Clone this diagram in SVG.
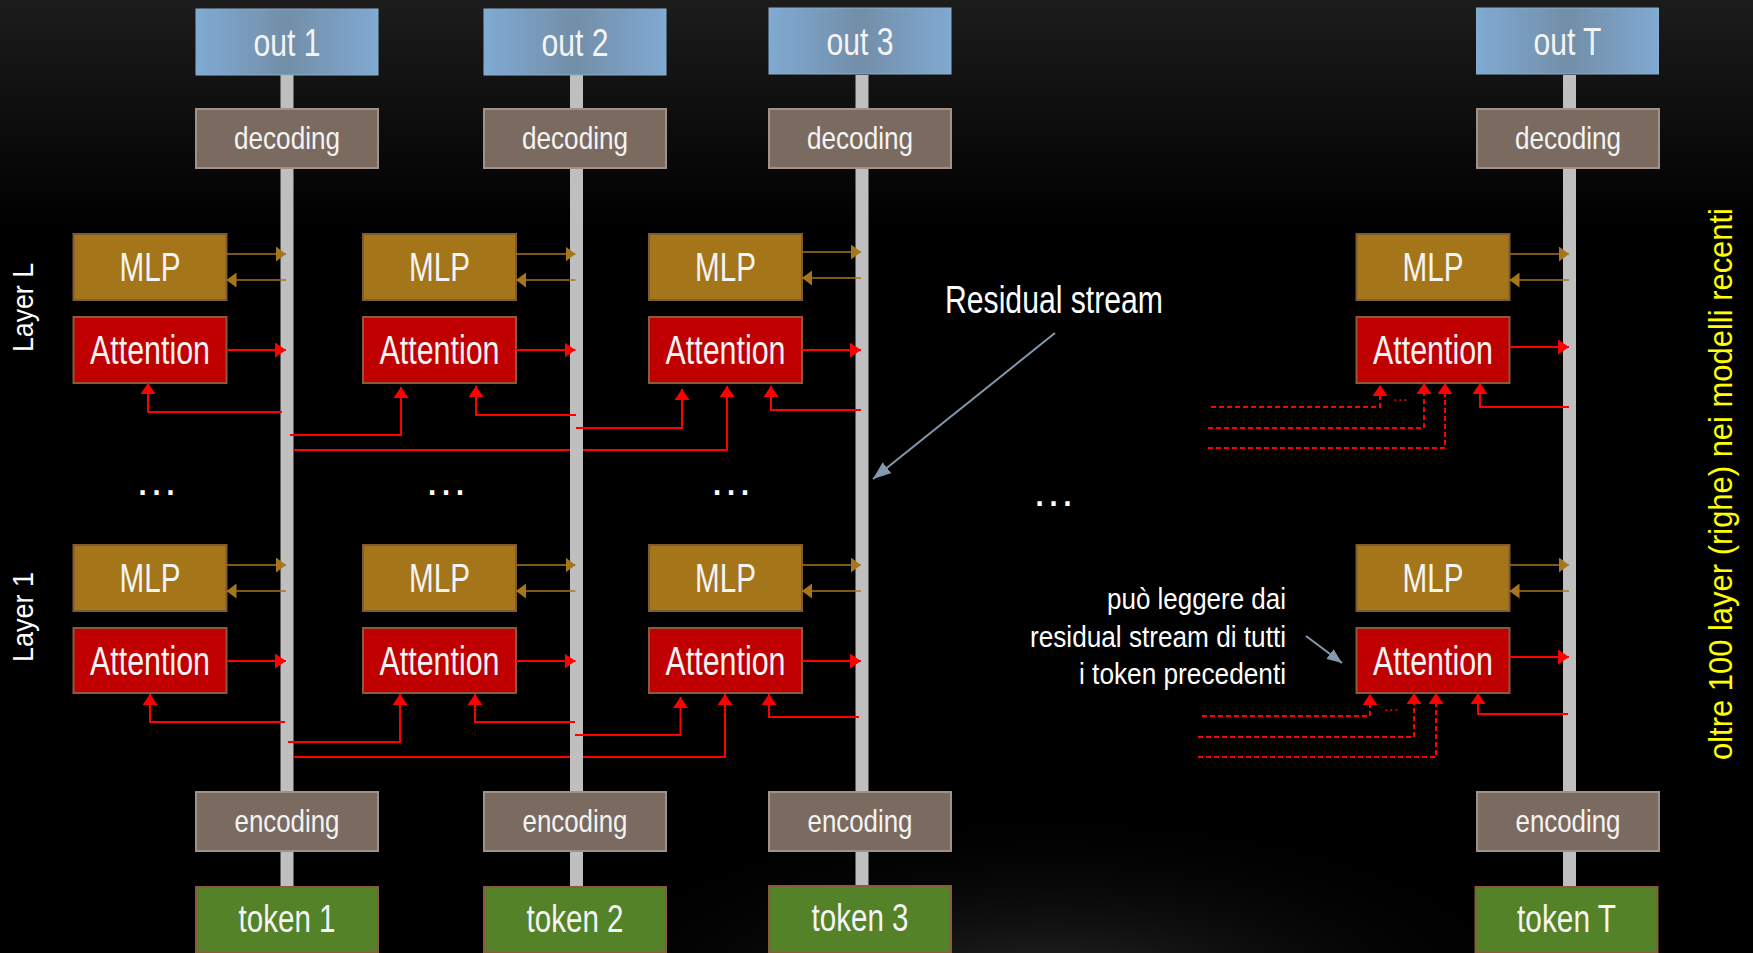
<svg xmlns="http://www.w3.org/2000/svg" width="1753" height="953" viewBox="0 0 1753 953">
<defs>
<linearGradient id="bg" x1="0" y1="0" x2="0" y2="1"><stop offset="0" stop-color="#1c1c1c"/><stop offset="0.24" stop-color="#000"/><stop offset="1" stop-color="#000"/></linearGradient>
<radialGradient id="glow" cx="0.5" cy="0.5" r="0.5"><stop offset="0" stop-color="#3a3a3a" stop-opacity="0.7"/><stop offset="1" stop-color="#000" stop-opacity="0"/></radialGradient>
<linearGradient id="gOut" x1="0" y1="0" x2="1" y2="0"><stop offset="0" stop-color="#80AAD3"/><stop offset="0.5" stop-color="#728EA8"/><stop offset="1" stop-color="#80A9D1"/></linearGradient>
<marker id="mr" markerWidth="11" markerHeight="15" refX="11" refY="7.5" orient="auto" markerUnits="userSpaceOnUse"><path d="M0,0 L11,7.5 L0,15 z" fill="#FF0000"/></marker>
<marker id="mg" markerWidth="10" markerHeight="15" refX="10" refY="7.5" orient="auto" markerUnits="userSpaceOnUse"><path d="M0,0 L10,7.5 L0,15 z" fill="#A5761C"/></marker>
<marker id="mn" markerWidth="18" markerHeight="14" refX="18" refY="7" orient="auto" markerUnits="userSpaceOnUse"><path d="M0,0 L18,7 L0,14 z" fill="#8499AD"/></marker>
<marker id="mn2" markerWidth="15" markerHeight="12" refX="15" refY="6" orient="auto" markerUnits="userSpaceOnUse"><path d="M0,0 L15,6 L0,12 z" fill="#8499AD"/></marker>
</defs>
<style>
.bt{font-family:'Liberation Sans Narrow','Liberation Sans',Arial,sans-serif;fill:#F4F4F4;text-anchor:middle}
.f35{font-size:38px}.f30{font-size:32px}.f37{font-size:40px}
.out rect{fill:url(#gOut);stroke:#8CAED0;stroke-width:1}
.dec rect{fill:#7A6A60;stroke:#A09289;stroke-width:2}
.mlp rect{fill:#A5751A;stroke:#7E5B34;stroke-width:2}
.att rect{fill:#C00000;stroke:#8A5A3A;stroke-width:2}
.tok rect{fill:#548228;stroke:#8A5A3A;stroke-width:2}
.stream{fill:#BFBFBF}
.red{stroke:#FF0000;stroke-width:2;fill:none}
.dash{stroke-dasharray:5 3}
.gold{stroke:#A5761C;stroke-width:1.6;fill:none}
.note{stroke:#8499AD;stroke-width:2;fill:none}
.lbl{font-family:'Liberation Sans',Arial,sans-serif;fill:#FFFFFF}
.dots{font-family:'Liberation Sans',Arial,sans-serif;fill:#FFFFFF;font-size:44px;text-anchor:middle}
</style>
<rect x="0" y="0" width="1753" height="953" fill="url(#bg)"/>
<ellipse cx="1050" cy="990" rx="520" ry="190" fill="url(#glow)"/>

<g id="streams">
<rect class="stream" x="280.5" y="75" width="13" height="812"/>
<rect class="stream" x="570" y="75" width="13" height="812"/>
<rect class="stream" x="855.5" y="75" width="13" height="812"/>
<rect class="stream" x="1563" y="75" width="13" height="812"/>
</g>

<!-- column 1 -->
<g id="out1" class="out"><rect x="196" y="9" width="182" height="66"/><text class="bt f35" x="287" y="56" textLength="67" lengthAdjust="spacingAndGlyphs">out 1</text></g>
<g id="dec1" class="dec"><rect x="196" y="109" width="182" height="59"/><text class="bt f30" x="287" y="149" textLength="106" lengthAdjust="spacingAndGlyphs">decoding</text></g>
<g id="mlpL1" class="mlp"><rect x="73.5" y="234" width="153" height="66"/><text class="bt f37" x="150" y="281" textLength="61" lengthAdjust="spacingAndGlyphs">MLP</text></g>
<g id="attL1" class="att"><rect x="73.5" y="317" width="153" height="66"/><text class="bt f37" x="150" y="364" textLength="120" lengthAdjust="spacingAndGlyphs">Attention</text></g>
<g id="mlp11" class="mlp"><rect x="73.5" y="545" width="153" height="66"/><text class="bt f37" x="150" y="592" textLength="61" lengthAdjust="spacingAndGlyphs">MLP</text></g>
<g id="att11" class="att"><rect x="73.5" y="628" width="153" height="65"/><text class="bt f37" x="150" y="675" textLength="120" lengthAdjust="spacingAndGlyphs">Attention</text></g>
<g id="enc1" class="dec"><rect x="196" y="792" width="182" height="59"/><text class="bt f30" x="287" y="832" textLength="105" lengthAdjust="spacingAndGlyphs">encoding</text></g>
<g id="tok1" class="tok"><rect x="196" y="887" width="182" height="66"/><text class="bt f35" x="287" y="932" textLength="97" lengthAdjust="spacingAndGlyphs">token 1</text></g>

<!-- column 2 -->
<g id="out2" class="out"><rect x="484" y="9" width="182" height="66"/><text class="bt f35" x="575" y="56" textLength="67" lengthAdjust="spacingAndGlyphs">out 2</text></g>
<g id="dec2" class="dec"><rect x="484" y="109" width="182" height="59"/><text class="bt f30" x="575" y="149" textLength="106" lengthAdjust="spacingAndGlyphs">decoding</text></g>
<g id="mlpL2" class="mlp"><rect x="363" y="234" width="153" height="66"/><text class="bt f37" x="439.5" y="281" textLength="61" lengthAdjust="spacingAndGlyphs">MLP</text></g>
<g id="attL2" class="att"><rect x="363" y="317" width="153" height="66"/><text class="bt f37" x="439.5" y="364" textLength="120" lengthAdjust="spacingAndGlyphs">Attention</text></g>
<g id="mlp12" class="mlp"><rect x="363" y="545" width="153" height="66"/><text class="bt f37" x="439.5" y="592" textLength="61" lengthAdjust="spacingAndGlyphs">MLP</text></g>
<g id="att12" class="att"><rect x="363" y="628" width="153" height="65"/><text class="bt f37" x="439.5" y="675" textLength="120" lengthAdjust="spacingAndGlyphs">Attention</text></g>
<g id="enc2" class="dec"><rect x="484" y="792" width="182" height="59"/><text class="bt f30" x="575" y="832" textLength="105" lengthAdjust="spacingAndGlyphs">encoding</text></g>
<g id="tok2" class="tok"><rect x="484" y="887" width="182" height="66"/><text class="bt f35" x="575" y="932" textLength="97" lengthAdjust="spacingAndGlyphs">token 2</text></g>

<!-- column 3 -->
<g id="out3" class="out"><rect x="769" y="8" width="182" height="66"/><text class="bt f35" x="860" y="55" textLength="67" lengthAdjust="spacingAndGlyphs">out 3</text></g>
<g id="dec3" class="dec"><rect x="769" y="109" width="182" height="59"/><text class="bt f30" x="860" y="149" textLength="106" lengthAdjust="spacingAndGlyphs">decoding</text></g>
<g id="mlpL3" class="mlp"><rect x="649" y="234" width="153" height="66"/><text class="bt f37" x="725.5" y="281" textLength="61" lengthAdjust="spacingAndGlyphs">MLP</text></g>
<g id="attL3" class="att"><rect x="649" y="317" width="153" height="66"/><text class="bt f37" x="725.5" y="364" textLength="120" lengthAdjust="spacingAndGlyphs">Attention</text></g>
<g id="mlp13" class="mlp"><rect x="649" y="545" width="153" height="66"/><text class="bt f37" x="725.5" y="592" textLength="61" lengthAdjust="spacingAndGlyphs">MLP</text></g>
<g id="att13" class="att"><rect x="649" y="628" width="153" height="65"/><text class="bt f37" x="725.5" y="675" textLength="120" lengthAdjust="spacingAndGlyphs">Attention</text></g>
<g id="enc3" class="dec"><rect x="769" y="792" width="182" height="59"/><text class="bt f30" x="860" y="832" textLength="105" lengthAdjust="spacingAndGlyphs">encoding</text></g>
<g id="tok3" class="tok"><rect x="769" y="886" width="182" height="67"/><text class="bt f35" x="860" y="931" textLength="97" lengthAdjust="spacingAndGlyphs">token 3</text></g>

<!-- column T -->
<g id="outT" class="out"><rect x="1476.5" y="8" width="182" height="66"/><text class="bt f35" x="1567.5" y="55" textLength="68" lengthAdjust="spacingAndGlyphs">out T</text></g>
<g id="decT" class="dec"><rect x="1477" y="109" width="182" height="59"/><text class="bt f30" x="1568" y="149" textLength="106" lengthAdjust="spacingAndGlyphs">decoding</text></g>
<g id="mlpLT" class="mlp"><rect x="1356.5" y="234" width="153" height="66"/><text class="bt f37" x="1433" y="281" textLength="61" lengthAdjust="spacingAndGlyphs">MLP</text></g>
<g id="attLT" class="att"><rect x="1356.5" y="317" width="153" height="66"/><text class="bt f37" x="1433" y="364" textLength="120" lengthAdjust="spacingAndGlyphs">Attention</text></g>
<g id="mlp1T" class="mlp"><rect x="1356.5" y="545" width="153" height="66"/><text class="bt f37" x="1433" y="592" textLength="61" lengthAdjust="spacingAndGlyphs">MLP</text></g>
<g id="att1T" class="att"><rect x="1356.5" y="628" width="153" height="65"/><text class="bt f37" x="1433" y="675" textLength="120" lengthAdjust="spacingAndGlyphs">Attention</text></g>
<g id="encT" class="dec"><rect x="1477" y="792" width="182" height="59"/><text class="bt f30" x="1568" y="832" textLength="105" lengthAdjust="spacingAndGlyphs">encoding</text></g>
<g id="tokT" class="tok"><rect x="1475.5" y="887" width="182" height="66"/><text class="bt f35" x="1566.5" y="932" textLength="99" lengthAdjust="spacingAndGlyphs">token T</text></g>

<g id="connectors">
<path class="gold" d="M226.5,254 H286" marker-end="url(#mg)"/>
<path class="gold" d="M286,280 H226.5" marker-end="url(#mg)"/>
<path class="gold" d="M226.5,565 H286" marker-end="url(#mg)"/>
<path class="gold" d="M286,591 H226.5" marker-end="url(#mg)"/>
<path class="gold" d="M516,254 H575.5" marker-end="url(#mg)"/>
<path class="gold" d="M575.5,280 H516" marker-end="url(#mg)"/>
<path class="gold" d="M516,565 H575.5" marker-end="url(#mg)"/>
<path class="gold" d="M575.5,591 H516" marker-end="url(#mg)"/>
<path class="gold" d="M802,252 H861" marker-end="url(#mg)"/>
<path class="gold" d="M861,278 H802" marker-end="url(#mg)"/>
<path class="gold" d="M802,565 H861" marker-end="url(#mg)"/>
<path class="gold" d="M861,591 H802" marker-end="url(#mg)"/>
<path class="gold" d="M1509.5,254 H1569" marker-end="url(#mg)"/>
<path class="gold" d="M1569,280 H1509.5" marker-end="url(#mg)"/>
<path class="gold" d="M1509.5,565 H1569" marker-end="url(#mg)"/>
<path class="gold" d="M1569,591 H1509.5" marker-end="url(#mg)"/>
<path class="red" d="M226.5,350 H286" marker-end="url(#mr)"/>
<path class="red" d="M226.5,661 H286" marker-end="url(#mr)"/>
<path class="red" d="M516,350 H575.5" marker-end="url(#mr)"/>
<path class="red" d="M516,661 H575.5" marker-end="url(#mr)"/>
<path class="red" d="M802,350 H861" marker-end="url(#mr)"/>
<path class="red" d="M802,661 H861" marker-end="url(#mr)"/>
<path class="red" d="M1509.5,347 H1569" marker-end="url(#mr)"/>
<path class="red" d="M1509.5,657 H1569" marker-end="url(#mr)"/>
<path class="red" d="M282,412 H148 V383" marker-end="url(#mr)"/>
<path class="red" d="M290,435 H401 V387" marker-end="url(#mr)"/>
<path class="red" d="M576,415 H476 V386" marker-end="url(#mr)"/>
<path class="red" d="M576,428 H682 V389" marker-end="url(#mr)"/>
<path class="red" d="M293.5,450 H570"/>
<path class="red" d="M583,450 H727 V386" marker-end="url(#mr)"/>
<path class="red" d="M861,410 H771 V386" marker-end="url(#mr)"/>
<path class="red" d="M1569,407 H1480 V383" marker-end="url(#mr)"/>
<path class="red dash" d="M1211,407 H1380 V385" marker-end="url(#mr)"/>
<path class="red dash" d="M1208,428 H1424 V383" marker-end="url(#mr)"/>
<path class="red dash" d="M1208,448 H1445 V383" marker-end="url(#mr)"/>
<path class="red" d="M285,722 H150 V694" marker-end="url(#mr)"/>
<path class="red" d="M288,742 H400 V694" marker-end="url(#mr)"/>
<path class="red" d="M575,722 H475 V694" marker-end="url(#mr)"/>
<path class="red" d="M575,735 H680.5 V697" marker-end="url(#mr)"/>
<path class="red" d="M293.5,757 H570"/>
<path class="red" d="M583,757 H725 V694" marker-end="url(#mr)"/>
<path class="red" d="M859,717 H769 V694" marker-end="url(#mr)"/>
<path class="red" d="M1568,714 H1478 V693" marker-end="url(#mr)"/>
<path class="red dash" d="M1202,716 H1370 V694" marker-end="url(#mr)"/>
<path class="red dash" d="M1198,737 H1414 V693" marker-end="url(#mr)"/>
<path class="red dash" d="M1198,757 H1436 V693" marker-end="url(#mr)"/>
<path class="note" d="M1055,333 L873,479" marker-end="url(#mn)"/>
<path class="note" d="M1306,636 L1342,663" marker-end="url(#mn2)"/>
</g>

<g id="labels">
<text class="lbl" font-size="29" text-anchor="middle" transform="translate(33,307.5) rotate(-90)" textLength="89" lengthAdjust="spacingAndGlyphs">Layer L</text>
<text class="lbl" font-size="29" text-anchor="middle" transform="translate(33,617) rotate(-90)" textLength="90" lengthAdjust="spacingAndGlyphs">Layer 1</text>
<text class="lbl" font-size="33" text-anchor="middle" style="fill:#FFFF00" transform="translate(1732,484) rotate(-90)" textLength="552" lengthAdjust="spacingAndGlyphs">oltre 100 layer (righe) nei modelli recenti</text>
<text class="bt" style="text-anchor:start;fill:#FFFFFF" font-size="38" x="945" y="313" textLength="218" lengthAdjust="spacingAndGlyphs">Residual stream</text>
<text class="bt" style="text-anchor:end;fill:#FFFFFF" font-size="29" x="1286" y="609" textLength="179" lengthAdjust="spacingAndGlyphs">può leggere dai</text>
<text class="bt" style="text-anchor:end;fill:#FFFFFF" font-size="29" x="1286" y="647" textLength="256" lengthAdjust="spacingAndGlyphs">residual stream di tutti</text>
<text class="bt" style="text-anchor:end;fill:#FFFFFF" font-size="29" x="1286" y="684" textLength="207" lengthAdjust="spacingAndGlyphs">i token precedenti</text>
<text class="dots" x="156.5" y="495">…</text>
<text class="dots" x="446" y="495">…</text>
<text class="dots" x="731" y="495">…</text>
<text class="dots" x="1053.5" y="506">…</text>
<text class="dots" style="fill:#FF0000;font-size:16px" x="1400" y="401">…</text>
<text class="dots" style="fill:#FF0000;font-size:16px" x="1391" y="711">…</text>
</g>
</svg>
